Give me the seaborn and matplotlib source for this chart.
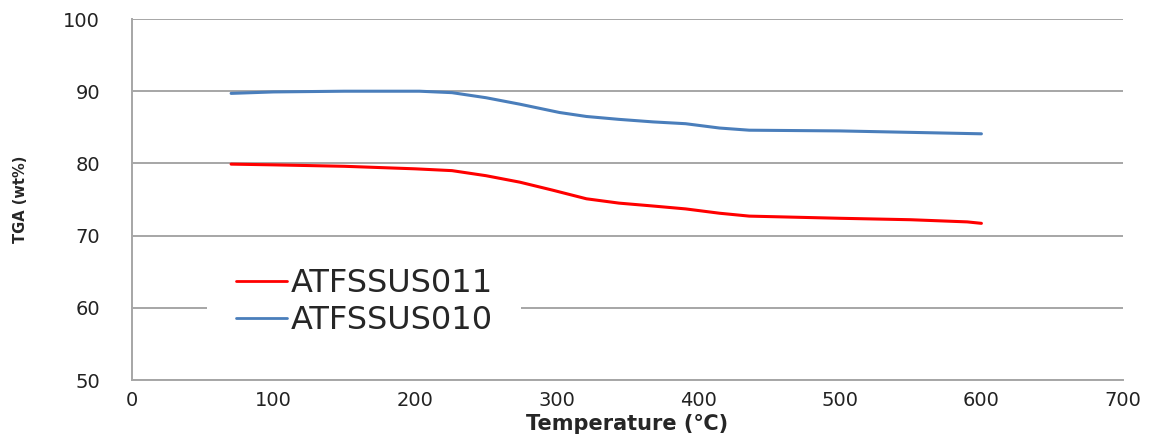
import numpy as np
import pandas as pd
import seaborn as sns
import matplotlib.pyplot as plt

# values
temp_011 = [70, 100, 150, 200, 226, 250, 274, 297, 321, 344, 368, 391, 415, 436, 500, 550, 590, 600]
tga_011 = [79.9, 79.8, 79.6, 79.25, 79.0, 78.3, 77.4, 76.3, 75.1, 74.5, 74.1, 73.7, 73.1, 72.7, 72.4, 72.2, 71.9, 71.7]

temp_010 = [70, 100, 150, 203, 226, 250, 274, 302, 321, 344, 368, 391, 415, 436, 500, 550, 600]
tga_010 = [89.7, 89.9, 90.0, 90.0, 89.8, 89.1, 88.2, 87.05, 86.5, 86.1, 85.75, 85.5, 84.9, 84.6, 84.5, 84.3, 84.1]

series_names = ["ATFSSUS011", "ATFSSUS010"]
series_colors = ["#ff0000", "#4a7ebb"]

df = pd.concat([
    pd.DataFrame({"temp": temp_011, "tga": tga_011, "sample": series_names[0]}),
    pd.DataFrame({"temp": temp_010, "tga": tga_010, "sample": series_names[1]}),
])

sns.set_style("white")
plt.rcParams['font.family'] = ['DejaVu Sans']

fig = plt.figure(figsize=(11.52, 4.34), dpi=100)
ax = fig.add_axes([0.1146, 0.1244, 0.8602, 0.8318])

sns.lineplot(data=df, x="temp", y="tga", hue="sample", hue_order=series_names,
             palette=series_colors, linewidth=2.2, ax=ax, sort=False)

ax.set_xlim(0, 700)
ax.set_ylim(50, 100)
ax.set_xticks(np.arange(0, 701, 100))
ax.set_yticks(np.arange(50, 101, 10))
ax.yaxis.grid(True, color="#a6a6a6", linewidth=1.4)
ax.xaxis.grid(False)
ax.set_axisbelow(True)

for side in ["top", "right"]:
    ax.spines[side].set_visible(False)
for side in ["left", "bottom"]:
    ax.spines[side].set_color("#a6a6a6")
    ax.spines[side].set_linewidth(1.4)

ax.tick_params(axis="x", length=0, pad=8, labelsize=14, labelcolor="#222222")
ax.tick_params(axis="y", length=0, pad=23, labelsize=14, labelcolor="#222222")

ax.set_xlabel("Temperature (℃)", fontsize=15, fontweight="bold", labelpad=3)
ax.set_ylabel("TGA (wt%)", fontsize=10.5, fontweight="bold", labelpad=25)

leg = ax.legend(loc="upper left", bbox_to_anchor=(0.076, 0.39), fontsize=23,
                frameon=True, facecolor="white", edgecolor="none", framealpha=1,
                handlelength=1.6, handletextpad=0.1, labelspacing=0.2,
                borderpad=0.9, borderaxespad=0)
for line in leg.get_lines():
    line.set_linewidth(2)

plt.savefig("out.png", dpi=100)
